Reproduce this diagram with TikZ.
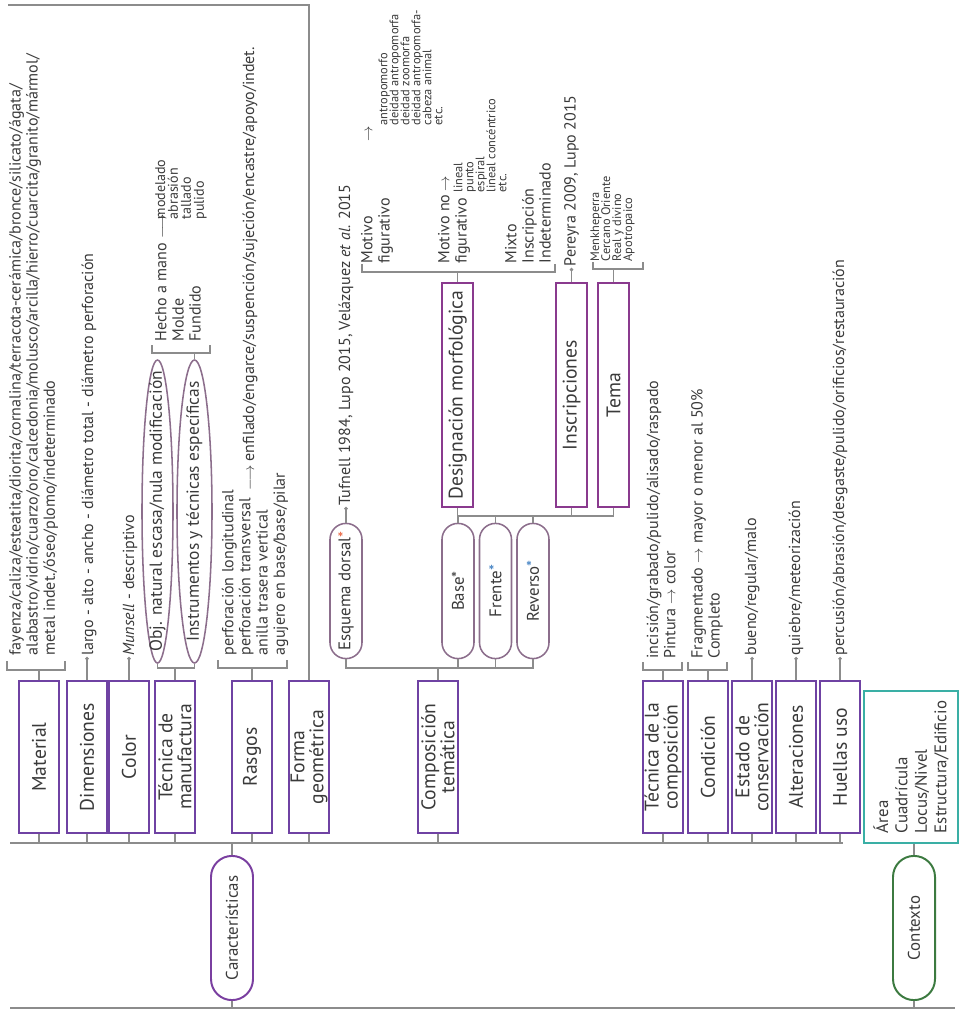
\documentclass[tikz,border=0pt]{standalone}
\usepackage{fontspec}
\setmainfont{PT Sans}
\usepackage{xcolor}
\usepackage{tikz}
\usetikzlibrary{shapes,arrows.meta,positioning}

\definecolor{boxpurple}{HTML}{6F42A3}
\definecolor{subpurple}{HTML}{8A3A8E}
\definecolor{pillmauve}{HTML}{8C6E8C}
\definecolor{carpurple}{HTML}{7A3FA0}
\definecolor{ctxteal}{HTML}{3AAFA5}
\definecolor{ctxgreen}{HTML}{3C7A40}
\definecolor{lngrey}{HTML}{8C8C8C}
\definecolor{ink}{HTML}{3A3A3A}
\definecolor{astorange}{HTML}{E8603C}
\definecolor{astblue}{HTML}{3A7CC0}

\newcommand{\lstfont}{\fontsize{11.4}{12.2}\selectfont}
\newcommand{\boxfont}{\fontsize{14}{13.5}\selectfont\lineskiplimit=-20pt}
\newcommand{\capfont}{\fontsize{12}{13}\selectfont}
\newcommand{\ovalfont}{\fontsize{12.4}{13}\selectfont}
\newcommand{\ctxfont}{\fontsize{12}{13.8}\selectfont}
\newcommand{\tightfont}{\fontsize{8.8}{7.8}\selectfont\lineskiplimit=-20pt}
\newcommand{\modfont}{\fontsize{10}{9.2}\selectfont\lineskiplimit=-20pt}

\begin{document}
\begin{tikzpicture}[x=0.25mm, y=-0.25mm,
    conn/.style={draw=lngrey, line width=0.9pt},
    dotarrow/.style={conn, -{Circle[length=2.4pt]}},
    catbox/.style={rectangle, draw=boxpurple, line width=1.4pt, rotate=90, minimum width=38mm, minimum height=10mm, inner sep=0.5pt, align=center, font=\boxfont, text=ink},
    subbox/.style={catbox, draw=subpurple, minimum width=56mm, minimum height=7.8mm},
    pill/.style={rounded rectangle, draw=pillmauve, line width=1.1pt, rotate=90, minimum width=34.5mm, minimum height=8mm, inner sep=1pt, font=\capfont, text=ink},
    oval/.style={ellipse, draw=pillmauve, line width=1.1pt, rotate=90, minimum width=75.75mm, inner sep=0pt},
    txt/.style={rotate=90, anchor=west, align=left, inner sep=1pt, font=\lstfont, text=ink},
    tighttxt/.style={txt, font=\tightfont}
]
\useasboundingbox (0,0) rectangle (960,1010);

% main line and its ends
\coordinate (trunkL) at (10,843);
\coordinate (trunkR) at (843,843);
\coordinate (baseL) at (10,1008);
\coordinate (baseR) at (955,1008);
\coordinate (topL) at (8,5);

% categories
\node[catbox] (material) at (39,757) {Material};
\node[catbox] (dimens) at (87,757) {Dimensiones};
\node[catbox] (color) at (129,757) {Color};
\node[catbox] (tecmanuf) at (175,757) {Técnica de\\manufactura};
\node[catbox] (rasgos) at (252,757) {Rasgos};
\node[catbox] (forma) at (309,757) {Forma\\geométrica};
\node[catbox] (compos) at (438,757) {Composición\\temática};
\node[catbox] (teccomp) at (663,757) {Técnica de la\\composición};
\node[catbox] (condic) at (708,757) {Condición};
\node[catbox] (estado) at (752,757) {Estado de\\conservación};
\node[catbox] (alter) at (796,757) {Alteraciones};
\node[catbox] (huellas) at (840,757) {Huellas uso};

\node[pill, draw=carpurple, line width=1.4pt, minimum width=36.75mm, minimum height=10.5mm] (caract) at (232,928) {Características};
\node[pill, draw=ctxgreen, line width=1.4pt, minimum width=36.75mm, minimum height=10.5mm] (contexto) at (914,928) {Contexto};
\node[rectangle, draw=ctxteal, line width=1.2pt, rotate=90, minimum width=38mm, minimum height=23.5mm, align=left, inner sep=1pt, font=\ctxfont, text=ink] (lugar) at (911,767) {Área\\Cuadrícula\\Locus/Nivel\\Estructura/Edificio};

% manufactura
\node[oval, minimum height=7.75mm] (objnat) at (157.5,511.5) {};
\node[oval, minimum height=8.75mm] (instr) at (194.5,511.5) {};
\node[rotate=90, font=\ovalfont, text=ink, inner sep=0pt] (objnattxt) at (objnat) {Obj. natural escasa/nula modificación};
\node[rotate=90, font=\ovalfont, text=ink, inner sep=0pt] (instrtxt) at (instr) {Instrumentos y técnicas específicas};

% composicion tematica
\node[pill] (esquema) at (346,591) {Esquema dorsal{\color{astorange}*}};
\node[pill] (base) at (458,591) {Base*};
\node[pill] (frente) at (495.5,591) {Frente{\color{astblue}*}};
\node[pill] (reverso) at (533,591) {Reverso{\color{astblue}*}};
\node[subbox] (design) at (457.5,395) {Designación morfológica};
\node[subbox] (inscr) at (571.5,395) {Inscripciones};
\node[subbox] (tema) at (613.5,395) {Tema};

% texts
\node[txt] (mattxt) at (33.5,657) {fayenza/caliza/esteatita/diorita/cornalina/terracota-cerámica/bronce/silicato/ágata/\\alabastro/vidrio/cuarzo/oro/calcedonia/molusco/arcilla/hierro/cuarcita/granito/mármol/\\metal indet./óseo/plomo/indeterminado};
\node[txt] (dimtxt) at (89,657) {largo - alto - ancho - diámetro total - diámetro perforación};
\node[txt] (coltxt) at (130,657) {\textit{Munsell} - descriptivo};
\node[txt] (hechotxt) at (178,343) {Hecho a mano $\longrightarrow$\\Molde\\Fundido};
\node[txt, font=\modfont, anchor=north west] (modtxt) at (153.5,221) {modelado\\abrasión\\tallado\\pulido};
\node[txt] (rasgtxt) at (255,657) {perforación longitudinal\\perforación transversal\\anilla trasera vertical\\agujero en base/base/pilar};
\node[txt] (usotxt) at (250,492) {$\longrightarrow$ enfilado/engarce/suspención/sujeción/encastre/apoyo/indet.};
\node[txt] (tuftxt) at (346,507) {Tufnell 1984, Lupo 2015, Velázquez \textit{et al.} 2015};
\node[txt] (motfig) at (377,265) {\makebox[30.5mm][l]{Motivo}$\rightarrow$\\figurativo};
\node[tighttxt, anchor=north west] (figlist) at (377,127) {antropomorfo\\deidad antropomorfa\\deidad zoomorfa\\deidad antropomorfa-\\cabeza animal\\etc.};
\node[txt] (motnofig) at (454,265) {Motivo no\,$\rightarrow$\\figurativo};
\node[tighttxt, anchor=north west] (nofiglist) at (452,194) {lineal\\punto\\espiral\\lineal concéntrico\\etc.};
\node[txt] (mixtxt) at (528,265) {Mixto\\Inscripción\\Indeterminado};
\node[txt] (perytxt) at (571.5,268) {Pereyra 2009, Lupo 2015};
\node[tighttxt] (tematxt) at (612.5,263) {Menkheperra\\Cercano Oriente\\Real y divino\\Apotropaico};
\node[txt] (tecctxt) at (661,660) {incisión/grabado/pulido/alisado/raspado\\Pintura $\rightarrow$ color};
\node[txt] (condtxt) at (707,660) {Fragmentado $\rightarrow$ mayor o menor al 50\%\\Completo};
\node[txt] (esttxt) at (752,657) {bueno/regular/malo};
\node[txt] (alttxt) at (796,657) {quiebre/meteorización};
\node[txt] (huetxt) at (840,657) {percusión/abrasión/desgaste/pulido/orificios/restauración};

% connectors
\draw[conn] (trunkL) -- (trunkR);
\foreach \n in {material,dimens,color,tecmanuf,rasgos,forma,compos,teccomp,condic,estado,alter,huellas}
  \draw[conn] (\n.west) -- (\n.west |- trunkL);
\draw[conn] (caract.east) -- (caract.east |- trunkL);
\draw[conn] (caract.west) -- (caract.west |- baseL);
\draw[conn] (baseL) -- (baseR);
\draw[conn] (contexto.east) -- (contexto.east |- lugar.west);
\draw[conn] (contexto.west) -- (contexto.west |- baseL);
\draw[conn] (forma.east) -- (forma.east |- topL) -- (topL);
\foreach \a/\b in {dimens/dimtxt,color/coltxt,estado/esttxt,alter/alttxt,huellas/huetxt,esquema/tuftxt,inscr/perytxt}
  \draw[dotarrow] (\a.east) -- (\a.east |- \b.west);

% brackets
\draw[conn] (7,661) |- (65,670) -- (65,661);
\draw[conn] (material.east) -- (material.east |- 0,670);
\draw[conn] (objnat.west) -- (objnat.west |- 0,668) -| (instr.west);
\draw[conn] (tecmanuf.east) -- (tecmanuf.east |- 0,668);
\draw[conn] (152,345) |- (210,353) -- (210,345);
\draw[conn] (instr.east) -- (instr.east |- 0,353);
\draw[conn] (218,660) |- (287,668) -- (287,660);
\draw[conn] (rasgos.east) -- (rasgos.east |- 0,668);
\draw[conn] (esquema.west) -- (esquema.west |- 0,668) -| (reverso.west);
\foreach \n in {base,frente}
  \draw[conn] (\n.west) -- (\n.west |- 0,668);
\draw[conn] (compos.east) -- (compos.east |- 0,668);
\draw[conn] (base.east) -- (base.east |- 0,516) -| (tema.west);
\foreach \n in {frente,reverso}
  \draw[conn] (\n.east) -- (\n.east |- 0,516);
\foreach \n in {design,inscr}
  \draw[conn] (\n.west) -- (\n.west |- 0,516);
\draw[conn] (362,264) |- (555,272) -- (555,264);
\draw[conn] (design.east) -- (design.east |- 0,272);
\draw[conn] (593,262) |- (643,269) -- (643,262);
\draw[conn] (tema.east) -- (tema.east |- 0,269);
\draw[conn] (643,662) |- (682,670) -- (682,662);
\draw[conn] (teccomp.east) -- (teccomp.east |- 0,670);
\draw[conn] (688,662) |- (727,670) -- (727,662);
\draw[conn] (condic.east) -- (condic.east |- 0,670);
\end{tikzpicture}
\end{document}
